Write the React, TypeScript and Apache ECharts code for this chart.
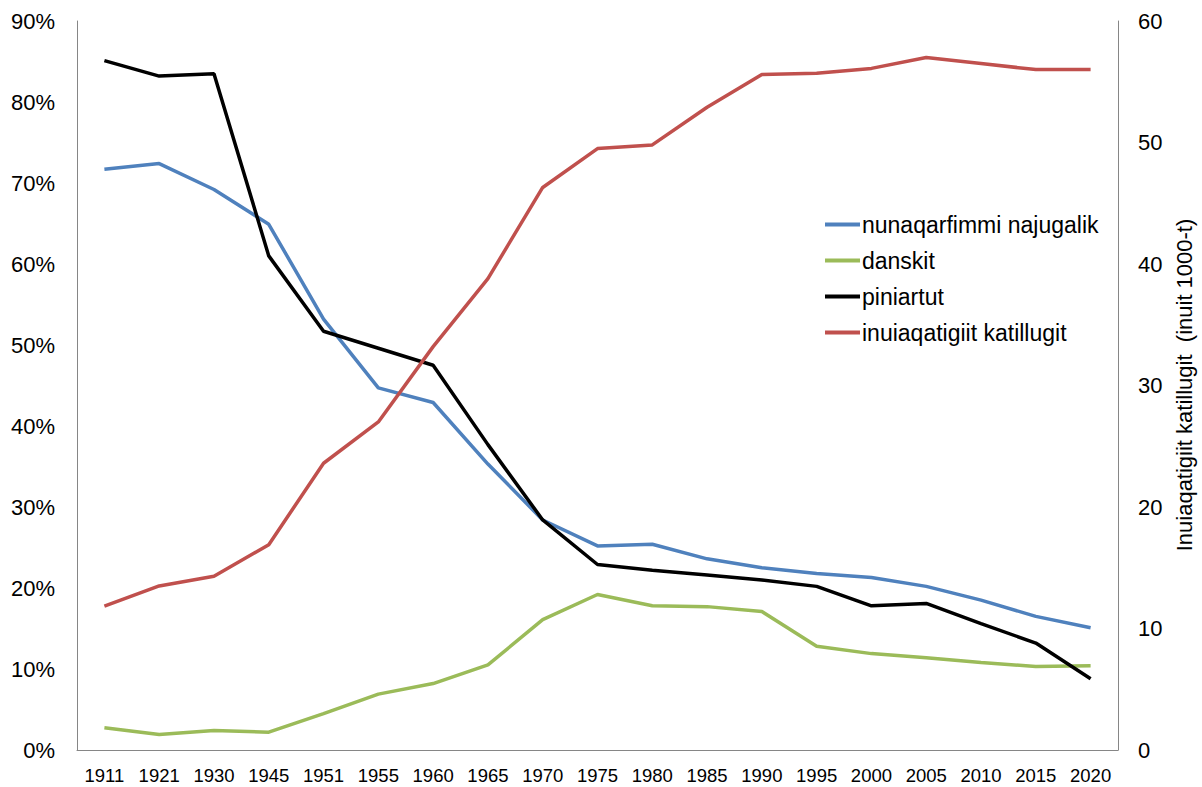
import React, { useEffect, useRef } from "react";
import * as echarts from "echarts";

const years = ["1911","1921","1930","1945","1951","1955","1960","1965","1970","1975","1980","1985","1990","1995","2000","2005","2010","2015","2020"];
const nunaqarfimmi = [71.7,72.4,69.2,64.9,53.2,44.7,42.9,35.3,28.4,25.2,25.4,23.6,22.5,21.8,21.3,20.2,18.5,16.5,15.1];
const danskit = [2.75,1.9,2.4,2.2,4.5,6.9,8.2,10.5,16.1,19.2,17.8,17.7,17.1,12.8,11.9,11.4,10.8,10.3,10.4];
const piniartut = [85.1,83.2,83.5,61.0,51.7,49.6,47.5,37.7,28.4,22.9,22.2,21.6,21.0,20.2,17.8,18.1,15.6,13.2,8.8];
const katillugit = [11.85,13.5,14.3,16.9,23.6,27.0,33.2,38.8,46.3,49.5,49.8,52.9,55.6,55.7,56.1,57.0,56.5,56.0,56.0];

const seriesNames = ["nunaqarfimmi najugalik","danskit","piniartut","inuiaqatigiit katillugit"];
const colors = ["#4F81BD","#9BBB59","#000000","#C0504D"];
const rightAxisTitle = "Inuiaqatigiit katillugit  (inuit 1000-t)";

export default function App() {
  const ref = useRef<HTMLDivElement>(null);
  useEffect(() => {
    if (!ref.current) return;
    const chart = echarts.init(ref.current, null, { renderer: "svg" });
    const font = "Liberation Sans, Arial, sans-serif";
    const mk = (name: string, data: number[], color: string, yAxisIndex: number) => ({
      name, type: "line", data, yAxisIndex,
      symbol: "none",
      lineStyle: { color, width: 3.5 },
      itemStyle: { color },
    });
    chart.setOption({
      animation: false,
      backgroundColor: "#ffffff",
      grid: { left: 77, right: 84, top: 21, bottom: 37 },
      legend: {
        orient: "vertical",
        left: 820,
        top: 208,
        icon: "rect",
        itemWidth: 35,
        itemHeight: 4,
        itemGap: 13,
        textStyle: { fontFamily: font, fontSize: 23, color: "#000", lineHeight: 23, padding: [0, 0, 0, -3] },
        data: seriesNames,
      },
      graphic: [
        {
          type: "text",
          x: 1184,
          y: 385,
          rotation: Math.PI / 2,
          style: {
            text: rightAxisTitle,
            fontFamily: font,
            fontSize: 22,
            fill: "#000",
            textAlign: "center",
            textVerticalAlign: "middle",
          },
        },
      ],
      xAxis: {
        type: "category",
        data: years,
        boundaryGap: true,
        axisLine: { lineStyle: { color: "#868686", width: 1 } },
        axisTick: { show: false },
        axisLabel: { fontFamily: font, fontSize: 18.5, color: "#000", margin: 16, interval: 0 },
      },
      yAxis: [
        {
          type: "value",
          min: 0, max: 90, interval: 10,
          axisLine: { show: true, lineStyle: { color: "#868686", width: 1 } },
          axisTick: { show: false },
          splitLine: { show: false },
          axisLabel: { fontFamily: font, fontSize: 22, color: "#000", margin: 22, formatter: "{value}%" },
        },
        {
          type: "value",
          min: 0, max: 60, interval: 10,
          position: "right",
          axisLine: { show: true, lineStyle: { color: "#868686", width: 1 } },
          axisTick: { show: false },
          splitLine: { show: false },
          axisLabel: { fontFamily: font, fontSize: 22, color: "#000", margin: 20 },
        },
      ],
      series: [
        mk(seriesNames[0], nunaqarfimmi, colors[0], 0),
        mk(seriesNames[1], danskit, colors[1], 0),
        mk(seriesNames[2], piniartut, colors[2], 0),
        mk(seriesNames[3], katillugit, colors[3], 1),
      ],
    });
    return () => chart.dispose();
  }, []);
  return <div ref={ref} style={{ position: "fixed", left: 0, top: 0, width: 1202, height: 787 }} />;
}
